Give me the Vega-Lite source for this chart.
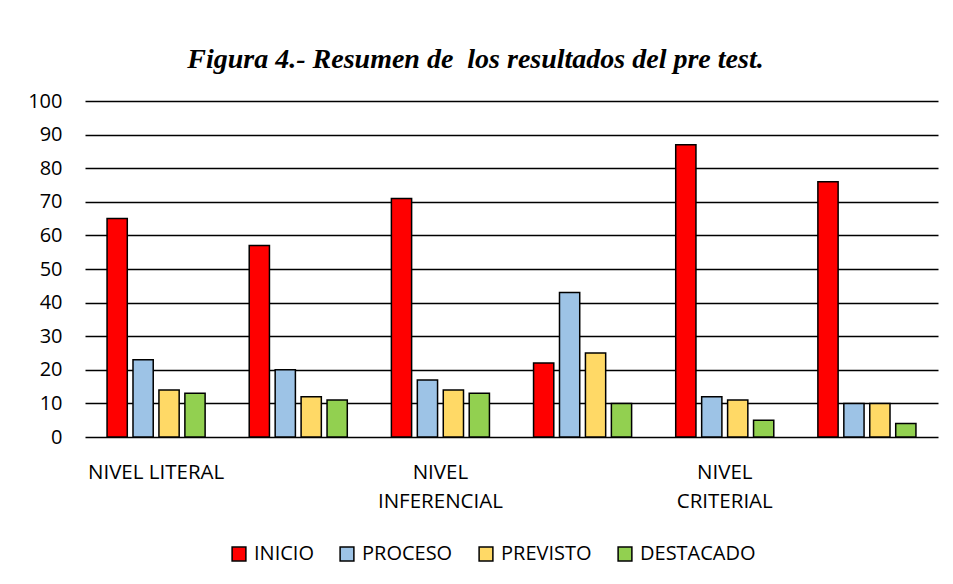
{
  "$schema": "https://vega.github.io/schema/vega-lite/v6.json",
  "width": 853,
  "height": 336,
  "autosize": {"type": "none"},
  "padding": {"left": 85, "top": 101, "right": 15, "bottom": 147},
  "background": "white",
  "title": {
    "text": "Figura 4.- Resumen de\u00a0 los resultados del pre test.",
    "font": "Liberation Serif",
    "fontSize": 28,
    "fontWeight": "bold",
    "fontStyle": "italic",
    "color": "#000000",
    "anchor": "middle",
    "frame": "group",
    "dx": -36,
    "offset": 17
  },
  "data": {
    "values": [
      {"grupo": 1, "serie": "INICIO", "valor": 65},
      {"grupo": 1, "serie": "PROCESO", "valor": 23},
      {"grupo": 1, "serie": "PREVISTO", "valor": 14},
      {"grupo": 1, "serie": "DESTACADO", "valor": 13},
      {"grupo": 2, "serie": "INICIO", "valor": 57},
      {"grupo": 2, "serie": "PROCESO", "valor": 20},
      {"grupo": 2, "serie": "PREVISTO", "valor": 12},
      {"grupo": 2, "serie": "DESTACADO", "valor": 11},
      {"grupo": 3, "serie": "INICIO", "valor": 71},
      {"grupo": 3, "serie": "PROCESO", "valor": 17},
      {"grupo": 3, "serie": "PREVISTO", "valor": 14},
      {"grupo": 3, "serie": "DESTACADO", "valor": 13},
      {"grupo": 4, "serie": "INICIO", "valor": 22},
      {"grupo": 4, "serie": "PROCESO", "valor": 43},
      {"grupo": 4, "serie": "PREVISTO", "valor": 25},
      {"grupo": 4, "serie": "DESTACADO", "valor": 10},
      {"grupo": 5, "serie": "INICIO", "valor": 87},
      {"grupo": 5, "serie": "PROCESO", "valor": 12},
      {"grupo": 5, "serie": "PREVISTO", "valor": 11},
      {"grupo": 5, "serie": "DESTACADO", "valor": 5},
      {"grupo": 6, "serie": "INICIO", "valor": 76},
      {"grupo": 6, "serie": "PROCESO", "valor": 10},
      {"grupo": 6, "serie": "PREVISTO", "valor": 10},
      {"grupo": 6, "serie": "DESTACADO", "valor": 4}
    ]
  },
  "mark": {"type": "bar", "stroke": "#000000", "strokeWidth": 1.5},
  "encoding": {
    "x": {
      "field": "grupo",
      "type": "ordinal",
      "scale": {"paddingInner": 0, "paddingOuter": 0},
      "axis": {
        "title": null,
        "labelAngle": 0,
        "domain": false,
        "ticks": false,
        "labelPadding": 35,
        "labelFont": "Open Sans",
        "labelFontSize": 20.5,
        "labelColor": "#000000",
        "labelLineHeight": 29,
        "labelBaseline": "middle",
        "labelExpr": "datum.value == 1 ? 'NIVEL LITERAL' : datum.value == 3 ? ['NIVEL', 'INFERENCIAL'] : datum.value == 5 ? ['NIVEL', 'CRITERIAL'] : ''"
      }
    },
    "xOffset": {
      "field": "serie",
      "type": "nominal",
      "sort": ["INICIO", "PROCESO", "PREVISTO", "DESTACADO"],
      "scale": {"paddingInner": 0.22, "paddingOuter": 0.85}
    },
    "y": {
      "field": "valor",
      "type": "quantitative",
      "scale": {"domain": [0, 100]},
      "axis": {
        "title": null,
        "values": [0, 10, 20, 30, 40, 50, 60, 70, 80, 90, 100],
        "domain": false,
        "ticks": false,
        "labelPadding": 23,
        "labelFont": "Open Sans",
        "labelFontSize": 20,
        "labelColor": "#000000",
        "gridColor": "#000000",
        "gridWidth": 1.6,
        "gridOpacity": 1
      }
    },
    "color": {
      "field": "serie",
      "type": "nominal",
      "scale": {
        "domain": ["INICIO", "PROCESO", "PREVISTO", "DESTACADO"],
        "range": ["#FF0000", "#9DC3E6", "#FFD966", "#92D050"]
      },
      "legend": {
        "title": null,
        "orient": "none",
        "legendX": 144,
        "legendY": 443,
        "direction": "horizontal",
        "symbolType": "square",
        "symbolSize": 190,
        "symbolStrokeColor": "#000000",
        "symbolStrokeWidth": 1.5,
        "labelFont": "Open Sans",
        "labelFontSize": 20,
        "labelColor": "#000000",
        "columnPadding": 23,
        "labelOffset": 5
      }
    }
  },
  "config": {
    "view": {"stroke": null}
  }
}
